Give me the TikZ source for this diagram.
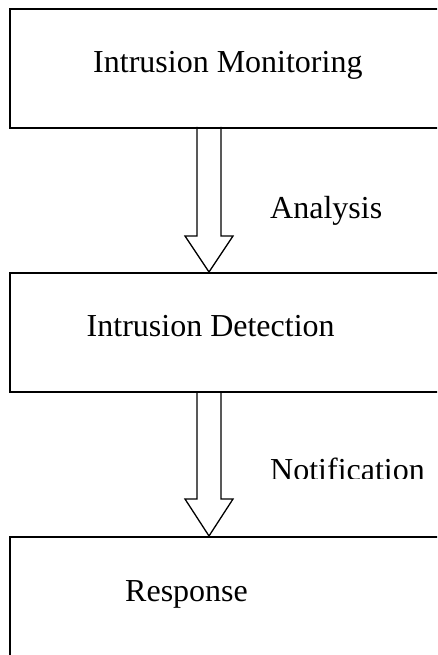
\documentclass[tikz,border=0pt]{standalone}
\usepackage{fontspec}
\setmainfont{Liberation Serif}
\usetikzlibrary{calc}
\begin{document}
\begin{tikzpicture}[x=1pt,y=-1pt,
  boxnode/.style={draw=black,line width=2pt,rectangle,inner sep=0pt,anchor=north west},
  lbl/.style={inner sep=0pt,anchor=base west,font=\fontsize{32}{36}\selectfont},
  blockarrow/.style={draw=black,line width=1.3pt,line join=miter}]
\useasboundingbox (0,0) rectangle (437,655);
\clip (0,0) rectangle (437,655);
\fill[white] (0,0) rectangle (437,655);
% boxes
\node[boxnode,minimum width=440pt,minimum height=119pt] (mon) at (9,8) {};
\node[boxnode,minimum width=440pt,minimum height=119pt] (det) at (9,272) {};
\node[boxnode,minimum width=440pt,minimum height=130pt] (res) at (9,536) {};
% labels
\node[lbl] (tmon) at (93,73) {Intrusion Monitoring};
\node[lbl] (tdet) at (86.5,336.5) {Intrusion Detection};
\node[lbl] (tres) at (125,601) {Response};
\node[lbl] (tana) at (270,218) {Analysis};
\begin{scope}
\clip (250,440) rectangle (437,478);
\node[lbl] (tnot) at (270,480) {Notification};
\end{scope}
% block arrows
\coordinate (a1t) at (209,127);
\coordinate (a1h) at (209,272);
\draw[blockarrow] ($(a1t)+(-12,0)$) -- ($(a1t)+(-12,109)$) -- ($(a1t)+(-24,109)$) -- (a1h)
  -- ($(a1t)+(24,109)$) -- ($(a1t)+(12,109)$) -- ($(a1t)+(12,0)$);
\coordinate (a2t) at (209,391);
\coordinate (a2h) at (209,536);
\draw[blockarrow] ($(a2t)+(-12,0)$) -- ($(a2t)+(-12,108)$) -- ($(a2t)+(-24,108)$) -- (a2h)
  -- ($(a2t)+(24,108)$) -- ($(a2t)+(12,108)$) -- ($(a2t)+(12,0)$);
\end{tikzpicture}
\end{document}
